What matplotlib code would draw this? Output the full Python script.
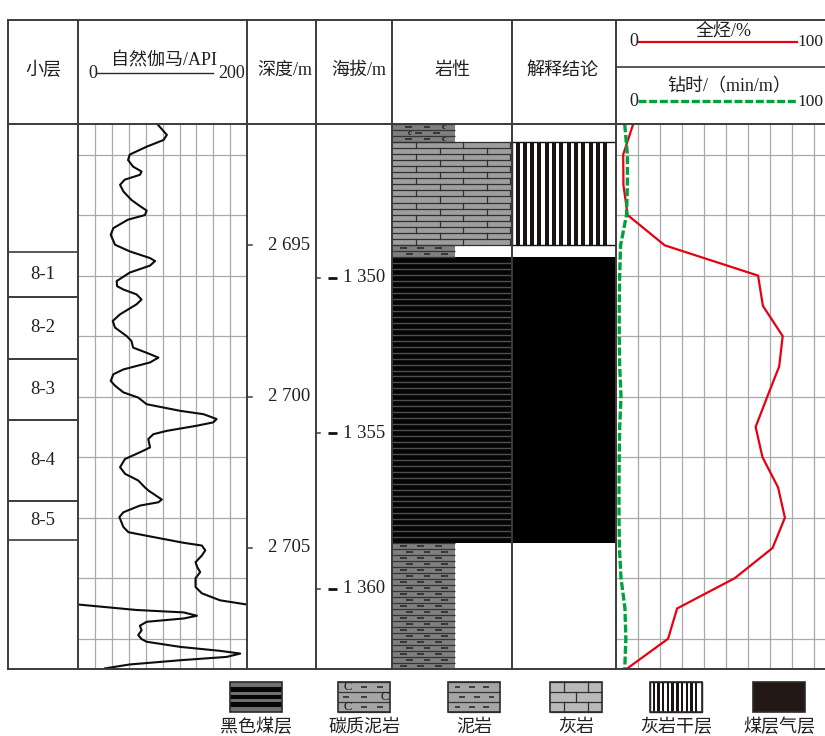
import numpy as np
import matplotlib
matplotlib.use("Agg")
import matplotlib.pyplot as plt
from matplotlib.patches import Rectangle

plt.rcParams['font.family'] = ['Liberation Serif', 'Noto Sans CJK SC']

# ---------------- data ----------------
# sub-layers
sub_names = ['8-1', '8-2', '8-3', '8-4', '8-5']
sub_top = [2695.21, 2696.72, 2698.74, 2700.76, 2703.45]
sub_bot = [2696.72, 2698.74, 2700.76, 2703.45, 2704.74]

# natural gamma (API); the curve runs off the 200 API scale near 2706.9 m
gr_upper_depth = [2691.0, 2691.35, 2691.52, 2691.74, 2692.0, 2692.18, 2692.4, 2692.56, 2692.67,
                  2692.83, 2693.0, 2693.22, 2693.5, 2693.7, 2693.85, 2694.0, 2694.15, 2694.43,
                  2694.65, 2694.98, 2695.2, 2695.42, 2695.52, 2695.67, 2695.9, 2696.18, 2696.35,
                  2696.46, 2696.62, 2696.79, 2696.95, 2697.28, 2697.5, 2697.72, 2698.0, 2698.16,
                  2698.38, 2698.55, 2698.71, 2698.87, 2699.1, 2699.26, 2699.48, 2699.64, 2699.86,
                  2700.03, 2700.25, 2700.47, 2700.58, 2700.74, 2700.85, 2700.96, 2701.13, 2701.24,
                  2701.4, 2701.68, 2701.84, 2702.06, 2702.33, 2702.55, 2702.77, 2703.0, 2703.1,
                  2703.4, 2703.49, 2703.6, 2703.82, 2703.98, 2704.31, 2704.48, 2704.64, 2704.83,
                  2704.92, 2705.08, 2705.25, 2705.47, 2705.63, 2705.8, 2706.0, 2706.29, 2706.5,
                  2706.73, 2706.87]
gr_upper_api = [93.9, 105, 101, 81, 61, 59, 65, 75, 73,
                55, 49.5, 53.5, 63, 73, 81, 79, 59, 41.6,
                38.4, 43.6, 61, 85, 91, 85, 61, 45.5, 46,
                53.5, 69, 75, 69, 49.5, 40.8, 43.6, 57.4, 63,
                65, 81, 95, 85, 53.5, 41.6, 38.4, 43.6, 53.5,
                71, 81, 121, 148.5, 164, 160, 140.6, 105, 89,
                83, 85, 73, 55.4, 49.5, 55.4, 71, 79, 83,
                99, 95, 73, 53.5, 48.7, 53.5, 59.4, 89, 125,
                146.5, 150.5, 146.5, 139, 141, 144.5, 139, 139, 146.5,
                168, 200]
gr_lower_depth = [2706.87, 2707.05, 2707.13, 2707.24, 2707.33, 2707.44, 2707.57, 2707.72, 2707.88,
                  2708.01, 2708.1, 2708.27, 2708.4, 2708.49, 2708.6, 2708.71, 2708.85, 2708.98]
gr_lower_api = [0, 69, 125, 140.6, 125, 81, 73, 75, 71,
                75, 81, 121, 168, 192, 176, 121, 61, 31.7]

# depth / altitude ticks
depth_ticks = [2695, 2700, 2705]
alt_ticks = [1350, 1355, 1360]

# lithology
lith_top = [2691.0, 2691.58, 2694.99, 2695.40, 2704.84]
lith_bot = [2691.58, 2694.99, 2695.40, 2704.84, 2709.0]
lith_kind = ['碳质泥岩', '灰岩', '泥岩', '黑色煤层', '泥岩']

# interpretation
interp_top = [2691.58, 2695.40]
interp_bot = [2694.99, 2704.84]
interp_kind = ['灰岩干层', '煤层气层']

# total hydrocarbon (%) and drilling time (min/m)
log_depth = [2691, 2692, 2693, 2694, 2695, 2696, 2697, 2698, 2699, 2700,
             2701, 2702, 2703, 2704, 2705, 2706, 2707, 2708, 2709]
total_gas = [8.0, 3.5, 3.6, 5.5, 22.4, 64.8, 67.0, 76.0, 74.4, 69.0,
             63.7, 66.8, 73.9, 77.0, 71.4, 54.2, 28.0, 23.9, 5.0]
drill_time = [4.2, 5.4, 5.4, 5.0, 2.3, 1.9, 1.7, 1.7, 1.9, 2.5,
              1.9, 1.7, 1.6, 1.6, 1.8, 2.5, 4.3, 4.7, 4.2]

legend_names = ['黑色煤层', '碳质泥岩', '泥岩', '灰岩', '灰岩干层', '煤层气层']

# ---------------- layout ----------------
W, H = 825, 736
fig = plt.figure(figsize=(W / 100, H / 100), dpi=100)

TXT = '#231f20'
BORDER = '#3d3a3a'
GRID = '#a9a9a9'
col_x = [8, 78.3, 247, 316, 392.3, 512.3, 615.5]
right_edge = 835.5
y_tab, y_hdr, y_bot = 20, 124.3, 669
d_top, d_bot = 2691, 2709


def px_axes(x0, x1, y0, y1, z=1):
    ax = fig.add_axes([x0 / W, 1 - y1 / H, (x1 - x0) / W, (y1 - y0) / H], zorder=z)
    ax.set_axis_off()
    return ax


def track(x0, x1, xlim=(0, 1)):
    ax = px_axes(x0, x1, y_hdr, y_bot)
    ax.set_xlim(*xlim)
    ax.set_ylim(d_bot, d_top)
    return ax


def scale_px(ax):
    a = ax.transData.transform([(0, 0), (1, 1)])
    return a[1, 0] - a[0, 0], a[1, 1] - a[0, 1]


def draw_unit(ax, kind, x0, x1, top, bot, legend=False):
    """Fill a rectangle with a lithology / interpretation pattern (sizes in pixels)."""
    sx, sy = scale_px(ax)
    X = lambda p: x0 + p / sx
    Y = lambda p: top - p / sy
    w = (x1 - x0) * sx
    h = abs((bot - top) * sy)
    if legend:
        n = 3
    else:
        n = max(1, int(round(h / 6.0)))
    rh = h / n

    def rect(fc, ec='none', lw=0):
        ax.add_patch(Rectangle((x0, top), x1 - x0, bot - top, fc=fc, ec=ec, lw=lw, zorder=2))

    def hline(p, color, lw):
        ax.plot([X(0), X(w)], [Y(p), Y(p)], color=color, lw=lw, solid_capstyle='butt', zorder=3)

    if kind == '灰岩':
        rect('#b9b9b9' if legend else '#9e9e9e')
        for i in range(n + 1):
            hline(i * rh, '#2f2f2f', 0.9)
        if legend:
            joints = [[0.26 * w, 0.74 * w], [0.5 * w]]
        else:
            joints = [list(np.arange(24, w - 1, 47)), list(np.arange(47.5, w - 1, 47))]
        for i in range(n):
            for jx in joints[i % 2]:
                ax.plot([X(jx), X(jx)], [Y(i * rh), Y((i + 1) * rh)], color='#2f2f2f', lw=0.9, zorder=3)
    elif kind in ('泥岩', '碳质泥岩'):
        rect('#a5a5a5' if legend else '#7f7f7f')
        for i in range(n + 1):
            hline(i * rh, '#353535', 0.9)
        if kind == '泥岩':
            rows = [[('-', 0.13), ('-', 0.40), ('-', 0.68)],
                    [('-', 0.22), ('-', 0.50), ('-', 0.78)]]
        elif legend:
            rows = [[('c', 0.13), ('-', 0.44), ('-', 0.75)],
                    [('-', 0.10), ('-', 0.44), ('c', 0.85)]]
        else:
            rows = [[('-', 0.20), ('-', 0.50), ('c', 0.77)],
                    [('c', 0.22), ('-', 0.37), ('-', 0.66)]]
        dl = 0.11 * w
        for i in range(n):
            yc = Y((i + 0.5) * rh)
            for tok, fx in rows[i % 2]:
                if tok == '-':
                    ax.plot([X(fx * w), X(fx * w + dl)], [yc, yc], color='#232323',
                            lw=1.1, solid_capstyle='butt', zorder=3)
                else:
                    ax.text(X(fx * w + dl / 2), yc, 'C' if legend else 'c', ha='center', va='center',
                            fontsize=9 if legend else 6.5, color='#151515',
                            fontweight='normal' if legend else 'bold',
                            family='Liberation Serif', zorder=4)
    elif kind == '黑色煤层':
        if legend:
            rect('#6f6f6f')
            for a, b in [(0.17, 0.33), (0.42, 0.58), (0.67, 0.83)]:
                ax.add_patch(Rectangle((x0, Y(a * h)), x1 - x0, Y(b * h) - Y(a * h),
                                       fc='#050505', ec='none', zorder=3))
        else:
            rect('#050505')
            for i in range(1, n):
                hline(i * rh, '#4f4f4f', 1.0)
    elif kind == '灰岩干层':
        rect('white', ec='#111111', lw=1.0)
        period, bar, start = (4.7, 2.4, 2.6) if legend else (7.3, 4.0, 3.2)
        xb = start
        while xb + bar <= w - 1.5:
            ax.add_patch(Rectangle((X(xb), top), bar / sx, bot - top, fc='#1a1414', ec='none', zorder=3))
            xb += period
    elif kind == '煤层气层':
        rect('#231815' if legend else '#000000')


# sub-layer column
ax_sub = track(col_x[0], col_x[1])
for name, t, b in zip(sub_names, sub_top, sub_bot):
    for d in (t, b):
        ax_sub.plot([0, 1], [d, d], color=BORDER, lw=1.2)
    ax_sub.text(0.5, (t + b) / 2, name, ha='center', va='center', fontsize=13.5, color=TXT)

# natural gamma track
ax_gr = track(col_x[1], col_x[2], (0, 200))
for v in range(20, 200, 20):
    ax_gr.axvline(v, color=GRID, lw=0.9, zorder=1)
for d in range(2692, 2709, 2):
    ax_gr.axhline(d, color=GRID, lw=0.9, zorder=1)
for dd, vv in ((gr_upper_depth, gr_upper_api), (gr_lower_depth, gr_lower_api)):
    ax_gr.plot(vv, dd, color='#0d0d0d', lw=1.5, solid_joinstyle='round', zorder=3)

# depth column
ax_dep = track(col_x[2], col_x[3])
for d in depth_ticks:
    ax_dep.plot([0, 0.075], [d, d], color=BORDER, lw=1.1)
    ax_dep.text(0.92, d, f"{d:,}".replace(',', ' '), ha='right', va='center', fontsize=13.5, color=TXT)

# altitude column (own scale)
ax_alt = px_axes(col_x[3], col_x[4], y_hdr, y_bot)
ax_alt.set_xlim(0, 1)
ax_alt.set_ylim(1362.58, 1345.06)
for a in alt_ticks:
    ax_alt.plot([0, 0.05], [a, a], color=BORDER, lw=1.1)
    ax_alt.plot([0.16, 0.27], [a, a], color='#111111', lw=2.0, solid_capstyle='butt')
    ax_alt.text(0.905, a, f"{a:,}".replace(',', ' '), ha='right', va='center', fontsize=13.5, color=TXT)

# lithology column
ax_lith = track(col_x[4], col_x[5])
for t, b, k in zip(lith_top, lith_bot, lith_kind):
    width = 0.52 if k in ('泥岩', '碳质泥岩') else 1.0
    draw_unit(ax_lith, k, 0, width, t, b)

# interpretation column
ax_int = track(col_x[5], col_x[6])
for t, b, k in zip(interp_top, interp_bot, interp_kind):
    draw_unit(ax_int, k, 0, 1, t, b)

# total hydrocarbon / drilling time track
ax_r = track(col_x[6], right_edge, (0, 100))
for v in range(10, 100, 10):
    ax_r.axvline(v, color=GRID, lw=0.9, zorder=1)
for d in range(2692, 2709, 2):
    ax_r.axhline(d, color=GRID, lw=0.9, zorder=1)
ax_r.plot(total_gas, log_depth, color='#e60012', lw=1.6, zorder=3)
ax_r.plot(drill_time, log_depth, color='#00a23c', lw=2.4, linestyle=(0, (2.4, 0.8)), zorder=4)

# ---------------- frame, header, legend ----------------
ov = px_axes(0, W, 0, H, z=10)
ov.set_xlim(0, W)
ov.set_ylim(H, 0)
for x in col_x:
    ov.plot([x, x], [y_tab, y_bot], color=BORDER, lw=1.4, solid_capstyle='projecting')
for y in (y_tab, y_hdr, y_bot):
    ov.plot([col_x[0], W + 5], [y, y], color=BORDER, lw=1.4, solid_capstyle='projecting')
ov.plot([col_x[6], W + 5], [66.7, 66.7], color=BORDER, lw=1.2)

hfs = 13
ov.text(43, 70, '小层', ha='center', va='center', fontsize=hfs, color=TXT)
ov.text(164, 61, '自然伽马/API', ha='center', va='center', fontsize=hfs, color=TXT)
ov.text(92.5, 73, '0', ha='center', va='center', fontsize=hfs, color=TXT)
ov.plot([96.7, 213.3], [72.5, 72.5], color='#2a2a2a', lw=1.0)
ov.text(231.5, 73, '200', ha='center', va='center', fontsize=hfs, color=TXT)
ov.text(285, 70, '深度/m', ha='center', va='center', fontsize=hfs, color=TXT)
ov.text(358.5, 70, '海拔/m', ha='center', va='center', fontsize=hfs, color=TXT)
ov.text(452.5, 70, '岩性', ha='center', va='center', fontsize=hfs, color=TXT)
ov.text(562, 70, '解释结论', ha='center', va='center', fontsize=hfs, color=TXT)

ov.text(724, 31, '全烃/%', ha='center', va='center', fontsize=hfs, color=TXT)
ov.text(634, 42, '0', ha='center', va='center', fontsize=hfs, color=TXT)
ov.plot([637.7, 796.5], [41.7, 41.7], color='#e60012', lw=1.6)
ov.text(797, 42, '100', ha='left', va='center', fontsize=12.5, color=TXT)

ov.text(729, 87, '钻时/（min/m）', ha='center', va='center', fontsize=hfs, color=TXT)
ov.text(634, 101.5, '0', ha='center', va='center', fontsize=hfs, color=TXT)
ov.plot([637.7, 796.5], [101, 101], color='#00a23c', lw=2.4, linestyle=(0, (2.4, 0.8)))
ov.text(797, 101.5, '100', ha='left', va='center', fontsize=12.5, color=TXT)

# legend swatches
leg_x = [230, 338, 448, 550, 650, 753]
for name, x0 in zip(legend_names, leg_x):
    draw_unit(ov, name, x0, x0 + 52, 682, 712, legend=True)
    ov.add_patch(Rectangle((x0, 682), 52, 30, fc='none', ec='#2b2b2b', lw=1.2, zorder=5))
    ov.text(x0 + 26, 727, name, ha='center', va='center', fontsize=hfs, color=TXT)

fig.savefig('out.png', dpi=100)
